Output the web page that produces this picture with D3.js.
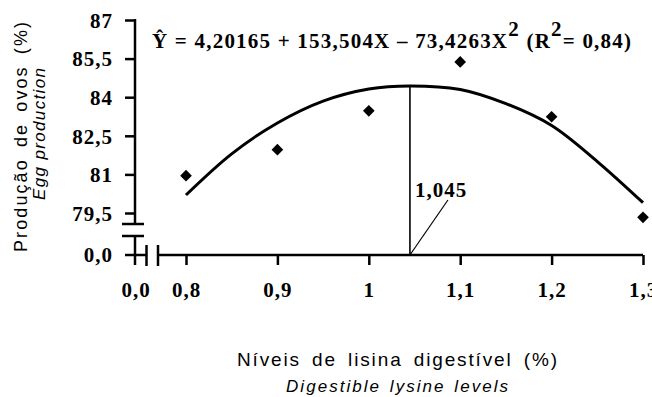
<!DOCTYPE html>
<html>
<head>
<meta charset="utf-8">
<script src="https://cdn.jsdelivr.net/npm/d3@7"></script>
<style>
  body { margin: 0; background: #fff; }
  svg { display: block; }
  .num { font-family: "Liberation Serif", "DejaVu Serif", serif; font-weight: bold; fill: #000; font-size: 21px; letter-spacing: 1px; }
  .ttl { font-family: "Liberation Sans", Arial, sans-serif; fill: #000; }
</style>
</head>
<body>
<svg id="chart" width="652" height="397"></svg>
<script>
// observed means
var levels = [0.8, 0.9, 1.0, 1.1, 1.2, 1.3];
var eggProd = [80.95, 81.96, 83.47, 85.37, 83.24, 79.33];

// fitted curve
var curveX = [0.8, 0.85, 0.9, 0.95, 1.0, 1.045, 1.1, 1.15, 1.2, 1.25, 1.3];
var curveY = [80.2, 81.8, 83.0, 83.85, 84.32, 84.44, 84.3, 83.75, 82.9, 81.5, 79.9];

var yTicks = [79.5, 81, 82.5, 84, 85.5, 87];
var xTicks = [0.8, 0.9, 1.0, 1.1, 1.2, 1.3];
var optimum = 1.045;

var svg = d3.select("#chart");

var x = d3.scaleLinear().domain([0.8, 1.3]).range([186, 643]);
var y = d3.scaleLinear().domain([79.5, 87]).range([213, 20]);

var axisX0 = 135,   // y axis line
    axisY0 = 255;   // x axis line (0,0)

var comma = function(d) {
    return d3.format("~f")(d).replace(".", ",");
};

function seg(x1, y1, x2, y2, w) {
    svg.append("line")
        .attr("x1", x1).attr("y1", y1).attr("x2", x2).attr("y2", y2)
        .attr("stroke", "#000").attr("stroke-width", w || 2.5);
}

// ---- y axis (upper part)
var yAxis = svg.append("g")
    .attr("transform", "translate(" + axisX0 + ",0)")
    .call(d3.axisLeft(y).tickValues(yTicks).tickSize(10).tickPadding(12).tickFormat(comma));
yAxis.select(".domain").remove();
yAxis.selectAll(".tick line").attr("stroke", "#000").attr("stroke-width", 2.5);
yAxis.selectAll(".tick text").attr("class", "num").attr("dy", "0.35em");

seg(axisX0, y(87) - 1, axisX0, 224);

// y break marks
seg(122, 224, 144, 224);
seg(122, 236, 144, 236);

// lower y segment with 0,0
seg(axisX0, 236, axisX0, 265);
seg(125, axisY0, 146, axisY0);
svg.append("text").attr("class", "num")
    .attr("x", 113).attr("y", axisY0).attr("dy", "0.35em")
    .attr("text-anchor", "end")
    .text("0,0");

// x break marks
seg(146.5, 245, 146.5, 266);
seg(158, 245, 158, 266);

// ---- x axis
var xAxis = svg.append("g")
    .attr("transform", "translate(0," + axisY0 + ")")
    .call(d3.axisBottom(x).tickValues(xTicks).tickSizeInner(10).tickSizeOuter(0).tickFormat(comma));
xAxis.select(".domain").attr("d", "M158,0H" + x(1.3)).attr("stroke", "#000").attr("stroke-width", 2.5);
xAxis.selectAll(".tick line").attr("stroke", "#000").attr("stroke-width", 2.5);
xAxis.selectAll(".tick text").attr("class", "num").attr("y", 42).attr("dy", 0);

svg.append("text").attr("class", "num")
    .attr("x", axisX0 + 1).attr("y", axisY0 + 42)
    .attr("text-anchor", "middle")
    .text("0,0");

// ---- fitted curve
var pts = curveX.map(function(d, i) { return [d, curveY[i]]; });
svg.append("path")
    .datum(pts)
    .attr("fill", "none")
    .attr("stroke", "#000")
    .attr("stroke-width", 3)
    .attr("d", d3.line().x(function(d) { return x(d[0]); }).y(function(d) { return y(d[1]); }).curve(d3.curveCatmullRom));

// optimum marker
var peak = curveY[curveX.indexOf(optimum)];
seg(x(optimum), axisY0, x(optimum), y(peak), 1.6);
seg(x(optimum), axisY0, x(optimum) + 38, 200, 1.2);
svg.append("text").attr("class", "num")
    .attr("x", x(optimum) + 5).attr("y", 197)
    .text(comma(optimum));

// ---- observed points
svg.selectAll(".pt")
    .data(levels)
    .enter().append("path")
    .attr("class", "pt")
    .attr("d", d3.symbol().type(d3.symbolSquare).size(68))
    .attr("transform", function(d, i) { return "translate(" + x(d) + "," + y(eggProd[i]) + ") rotate(45)"; })
    .attr("fill", "#000");

// ---- equation
var eq = svg.append("text").attr("class", "num")
    .attr("x", 152).attr("y", 48)
    .attr("textLength", 480).attr("lengthAdjust", "spacing");
eq.append("tspan").text("\u0176 = 4,20165 + 153,504X \u2013 73,4263X");
eq.append("tspan").attr("dy", -12).text("2");
eq.append("tspan").attr("dy", 12).text(" (R");
eq.append("tspan").attr("dy", -12).text("2");
eq.append("tspan").attr("dy", 12).text("= 0,84)");

// ---- axis titles
svg.append("text").attr("class", "ttl")
    .attr("transform", "translate(27,137) rotate(-90)")
    .attr("x", -115).attr("textLength", 230).attr("lengthAdjust", "spacing")
    .style("font-size", "18px").style("word-spacing", "4px")
    .text("Produção de ovos (%)");
svg.append("text").attr("class", "ttl")
    .attr("transform", "translate(45,134) rotate(-90)")
    .attr("x", -66).attr("textLength", 132).attr("lengthAdjust", "spacing")
    .style("font-size", "17px").style("font-style", "italic")
    .text("Egg production");

svg.append("text").attr("class", "ttl")
    .attr("x", 237).attr("y", 366)
    .attr("textLength", 320).attr("lengthAdjust", "spacing")
    .style("font-size", "19px").style("word-spacing", "4px")
    .text("Níveis de lisina digestível (%)");
svg.append("text").attr("class", "ttl")
    .attr("x", 286).attr("y", 392)
    .attr("textLength", 222).attr("lengthAdjust", "spacing")
    .style("font-size", "17px").style("font-style", "italic").style("word-spacing", "2px")
    .text("Digestible lysine levels");
</script>
</body>
</html>
